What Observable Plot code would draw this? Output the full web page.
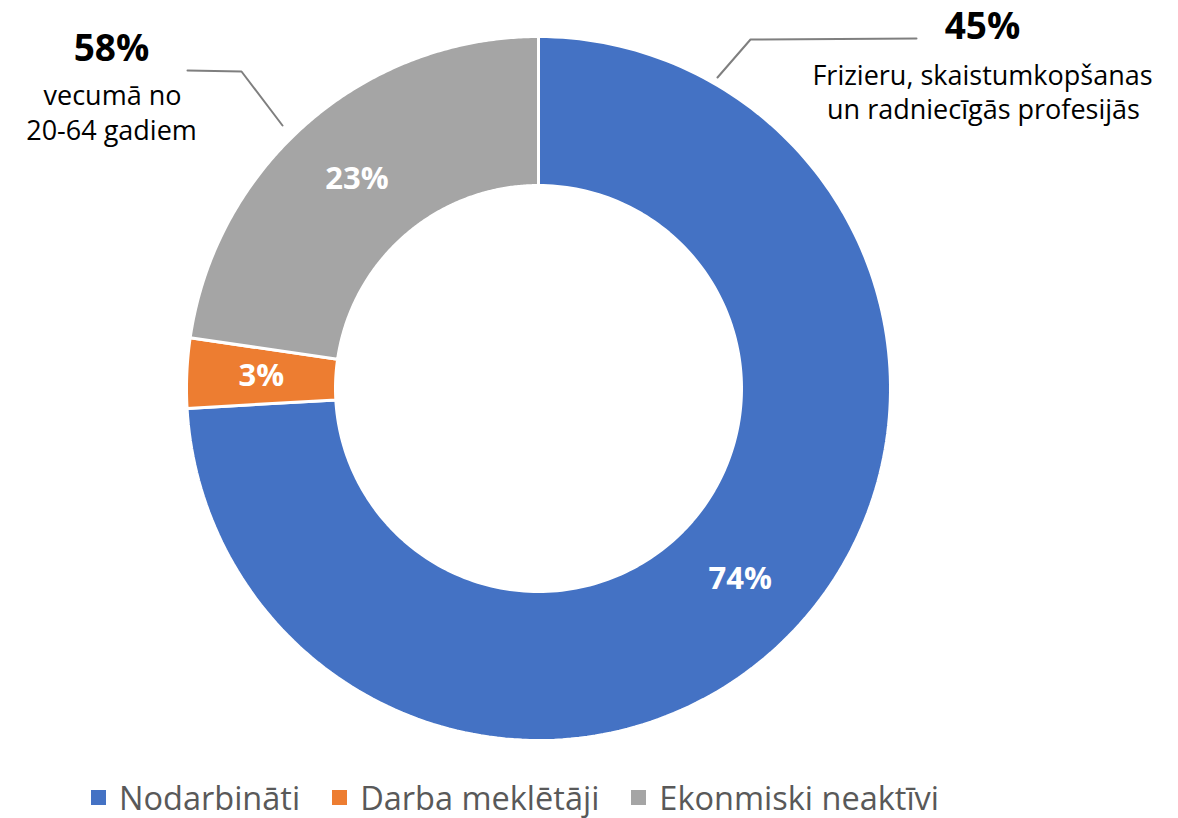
<!DOCTYPE html>
<html>
<head>
<meta charset="utf-8">
<script src="https://cdn.jsdelivr.net/npm/d3@7"></script>
<script src="https://cdn.jsdelivr.net/npm/@observablehq/plot@0.6"></script>
<style>
  html, body { margin: 0; padding: 0; background: #fff; }
  body { width: 1178px; height: 818px; overflow: hidden; font-family: "Open Sans", sans-serif; }
  #legend { display: flex; align-items: center; height: 42px; padding-left: 91px; font-size: 32.5px; color: #595959; }
  #legend .item { display: flex; align-items: center; margin-right: 32px; }
  #legend .sw { width: 15px; height: 15px; margin-right: 13px; }
</style>
</head>
<body>
<div id="chart"></div>
<div id="legend"></div>
<script>
const categories = ["Nodarbināti", "Darba meklētāji", "Ekonmiski neaktīvi"];
const values = [74.1, 3.2, 22.7];
const labels = ["74%", "3%", "23%"];
const colors = ["#4472C4", "#ED7D31", "#A5A5A5"];
const annotationTitles = ["45%", "58%"];
const annotationLines = [["Frizieru, skaistumkopšanas", "un radniecīgās profesijās"], ["vecumā no", "20-64 gadiem"]];

const W = 1178, H = 776;
const cx = 538, cy = 388, R = 352;
const innerFrac = 203 / 352;

const pie = d3.pie().sort(null).value(d => d.value)(categories.map((c, i) => ({cat: c, value: values[i], label: labels[i]})));

// polygon points per slice in unit coordinates (y up)
const polys = [];
pie.forEach((p, i) => {
  const n = 200;
  const pts = [];
  for (let k = 0; k <= n; k++) {
    const a = p.startAngle + (p.endAngle - p.startAngle) * k / n;
    pts.push({x: Math.sin(a), y: Math.cos(a)});
  }
  for (let k = n; k >= 0; k--) {
    const a = p.startAngle + (p.endAngle - p.startAngle) * k / n;
    pts.push({x: innerFrac * Math.sin(a), y: innerFrac * Math.cos(a)});
  }
  pts.push(pts[0]);
  pts.forEach(q => polys.push({...q, cat: p.data.cat, i}));
});

const labelPts = pie.map(p => {
  const a = (p.startAngle + p.endAngle) / 2;
  const r = (1 + innerFrac) / 2;
  return {x: r * Math.sin(a), y: r * Math.cos(a), label: p.data.label};
});

// pixel -> unit helpers for annotations
const ux = px => (px - cx) / R;
const uy = py => (cy - py) / R;

const leaders = [
  [{x: ux(717), y: uy(77), g: 0}, {x: ux(750), y: uy(39), g: 0}, {x: ux(916), y: uy(38), g: 0}],
  [{x: ux(282), y: uy(125), g: 1}, {x: ux(241), y: uy(71), g: 1}, {x: ux(187), y: uy(70), g: 1}]
].flat();

const titlePts = [{x: ux(982), y: uy(38), t: annotationTitles[0]}, {x: ux(111), y: uy(60), t: annotationTitles[1]}];
const linePts = [
  {x: ux(982), y: uy(84), t: annotationLines[0][0]},
  {x: ux(983), y: uy(118), t: annotationLines[0][1]},
  {x: ux(112), y: uy(104), t: annotationLines[1][0]},
  {x: ux(111), y: uy(139), t: annotationLines[1][1]}
];

const chart = Plot.plot({
  width: W, height: H,
  margin: 0,
  x: {domain: [ux(0), ux(W)], axis: null},
  y: {domain: [uy(H), uy(0)], axis: null},
  color: {domain: categories, range: colors},
  style: {fontFamily: "Open Sans, sans-serif", overflow: "visible"},
  marks: [
    Plot.line(polys, {x: "x", y: "y", z: "cat", fill: "cat", stroke: "white", strokeWidth: 3, curve: "linear"}),
    Plot.text(labelPts, {x: "x", y: "y", text: "label", fill: "white", fontSize: 31, fontWeight: "bold"}),
    Plot.line(leaders, {x: "x", y: "y", z: "g", stroke: "#7F7F7F", strokeWidth: 2}),
    Plot.text(titlePts, {x: "x", y: "y", text: "t", fill: "black", fontSize: 37, fontWeight: "bold", lineAnchor: "bottom"}),
    Plot.text(linePts, {x: "x", y: "y", text: "t", fill: "black", fontSize: 27, lineAnchor: "bottom"})
  ]
});
document.getElementById("chart").appendChild(chart);

const leg = document.getElementById("legend");
categories.forEach((c, i) => {
  const it = document.createElement("div");
  it.className = "item";
  it.innerHTML = `<span class="sw" style="background:${colors[i]}"></span><span>${c}</span>`;
  leg.appendChild(it);
});
</script>
</body>
</html>
